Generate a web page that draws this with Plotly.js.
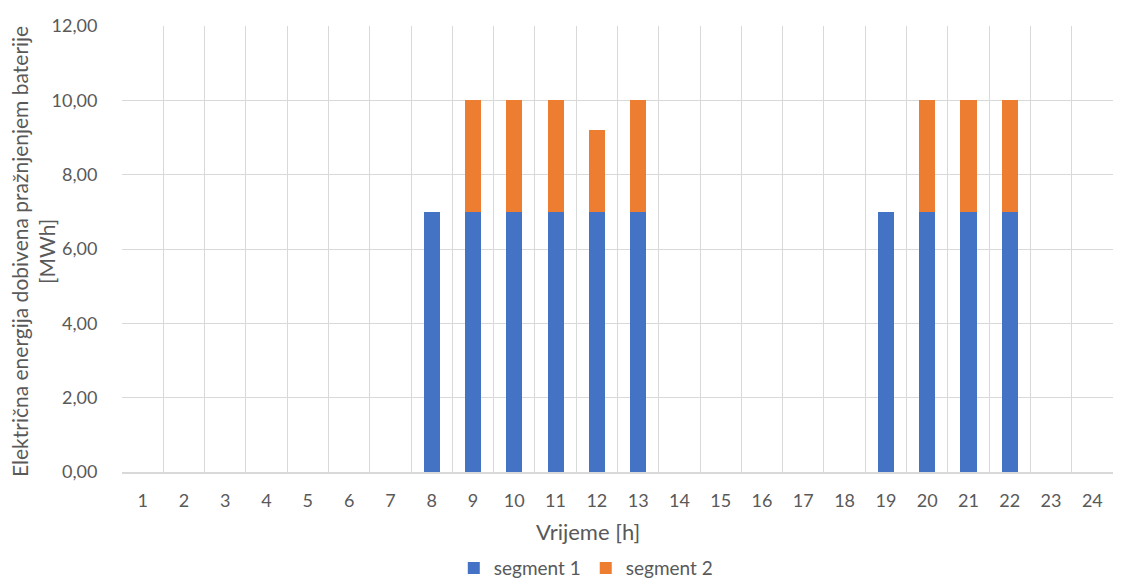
<!DOCTYPE html>
<html><head><meta charset="utf-8">
<script src="https://cdn.plot.ly/plotly-3.0.1.min.js"></script>
<style>body{margin:0;background:#fff}</style>
</head><body>
<div id="chart" style="width:1126px;height:578px"></div>
<script>
const hours = [1,2,3,4,5,6,7,8,9,10,11,12,13,14,15,16,17,18,19,20,21,22,23,24];
const segment1 = [0,0,0,0,0,0,0,7,7,7,7,7,7,0,0,0,0,0,7,7,7,7,0,0];
const segment2 = [0,0,0,0,0,0,0,0,3,3,3,2.2,3,0,0,0,0,0,0,3,3,3,0,0];
const seriesNames = ['segment 1','segment 2'];
const xTitle = 'Vrijeme [h]';
const yTitle = 'Električna energija dobivena pražnjenjem baterije<br>[MWh]';
const txt = '#595959';
const font = 'Lato, Open Sans, sans-serif';
const data = [
  {type:'bar', x:hours, y:segment1, name:seriesNames[0], marker:{color:'#4472C4'}, hoverinfo:'x+y'},
  {type:'bar', x:hours, y:segment2, name:seriesNames[1], marker:{color:'#ED7D31'}, hoverinfo:'x+y'},
  {type:'scatter', x:[hours[0]], y:[0], xaxis:'x2', showlegend:false, mode:'none', hoverinfo:'skip'}
];
const layout = {
  width:1126, height:578,
  margin:{l:122, r:13, t:26, b:106, autoexpand:false},
  barmode:'stack', bargap:0.61,
  separators:',.',
  paper_bgcolor:'#fff', plot_bgcolor:'#fff',
  font:{family:font, color:txt, size:18},
  xaxis:{range:[0.5,24.5], tickmode:'array', tickvals:hours, ticktext:hours.map(String),
    showgrid:false, zeroline:false, showline:true, linecolor:'#d9d9d9', linewidth:1.5,
    ticks:'outside', ticklen:12, tickcolor:'rgba(0,0,0,0)', tickfont:{size:18, color:txt}, automargin:false},
  xaxis2:{range:[0.5,24.5], overlaying:'x', tick0:0.5, dtick:1, showgrid:true, gridcolor:'#d9d9d9', gridwidth:1,
    showticklabels:false, zeroline:false, ticks:''},
  yaxis:{range:[0,12], dtick:2, tickformat:'.2f', showgrid:true, gridcolor:'#d9d9d9', gridwidth:1,
    zeroline:false, ticks:'outside', ticklen:20, tickcolor:'rgba(0,0,0,0)', tickfont:{size:18, color:txt}, automargin:false},
  annotations:[
    {text:xTitle, xref:'paper', yref:'paper', x:0.47, xanchor:'center', y:(472-531)/446, yanchor:'middle',
     showarrow:false, font:{size:22, color:txt}},
    {text:yTitle, xref:'paper', yref:'paper', x:(33-122)/991, xanchor:'center', y:(472-252)/446, yanchor:'middle',
     textangle:-90, showarrow:false, font:{size:21, color:txt}}
  ],
  legend:{orientation:'h', x:0.468, xanchor:'center', yref:'container', y:0.017, yanchor:'middle', font:{size:19, color:txt}, traceorder:'normal', itemwidth:30}
};
Plotly.newPlot('chart', data, layout, {displayModeBar:false, staticPlot:true});
</script>
</body></html>
